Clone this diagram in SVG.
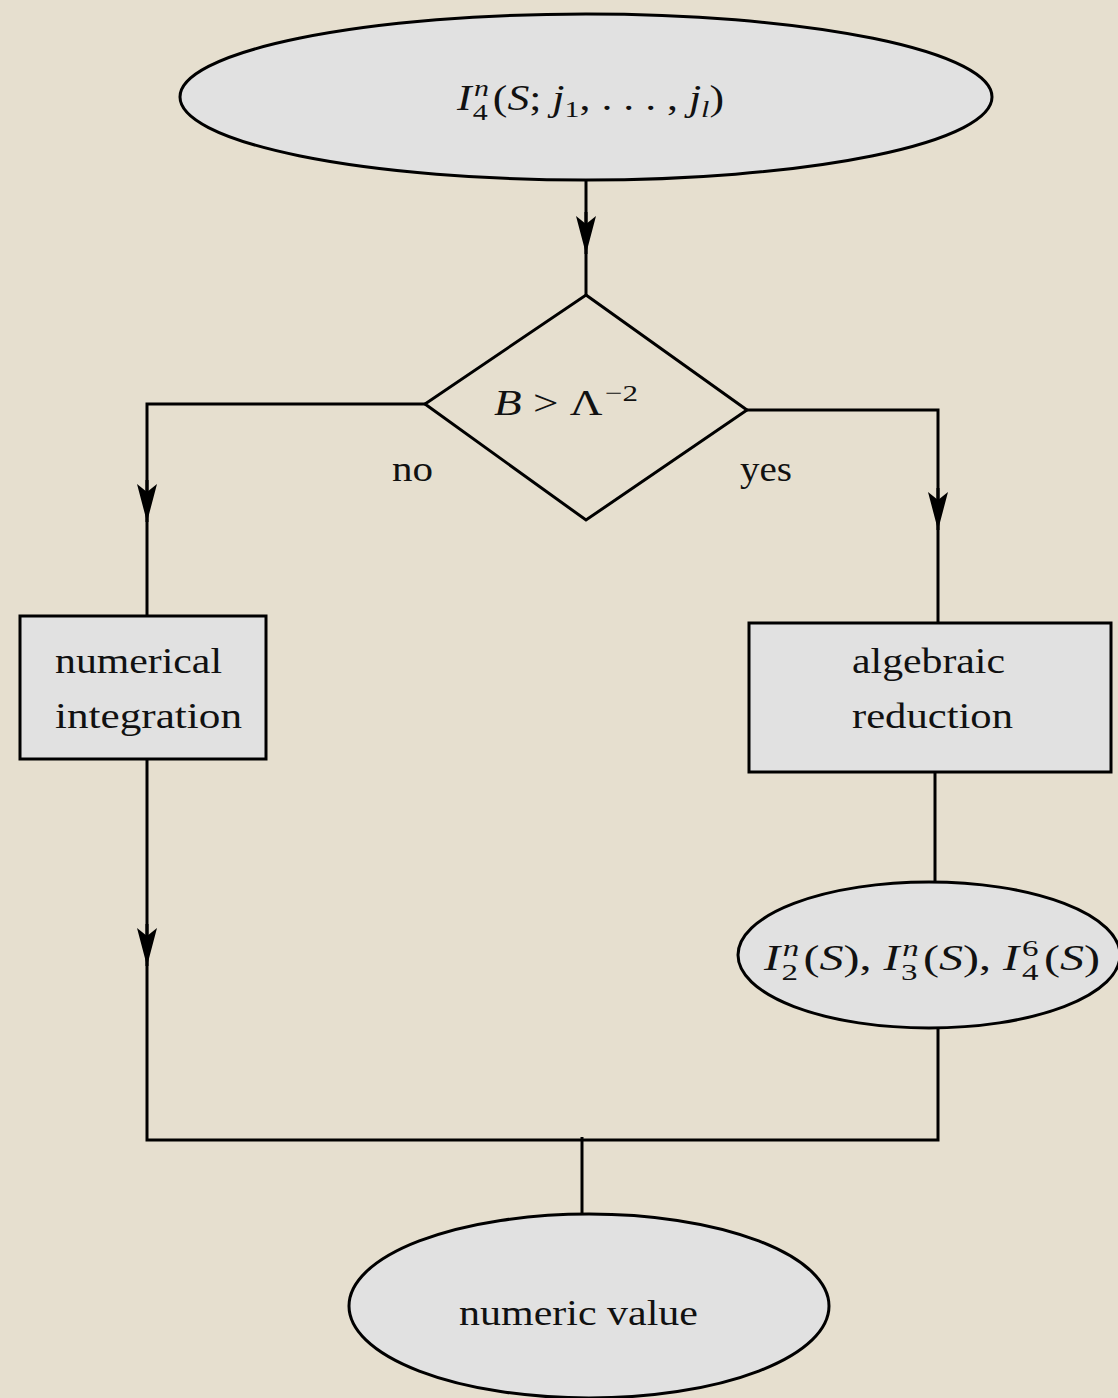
<svg xmlns="http://www.w3.org/2000/svg" width="1118" height="1398" viewBox="0 0 1118 1398">
<defs>
<marker id="arr" viewBox="0 0 40 20" refX="38" refY="10" markerWidth="40" markerHeight="20" markerUnits="userSpaceOnUse" orient="auto">
<path d="M0,0 L8,10 L0,20 L38,10 Z" fill="#000"/>
</marker>
<style>
.node{fill:#e1e1e1;stroke:#000;stroke-width:3}
.ln{fill:none;stroke:#000;stroke-width:3}
.t{font-family:"Liberation Serif","DejaVu Serif",serif;font-size:35px;fill:#111}
.m{font-style:italic}
.s{font-size:24px;font-style:normal}
.si{font-size:24px;font-style:italic}
</style>
</defs>
<rect width="1118" height="1398" fill="#e6dfcf"/>
<g id="connectors">
<line class="ln" x1="586" y1="180" x2="586" y2="295"/>
<line class="ln" x1="586" y1="212" x2="586" y2="254" marker-end="url(#arr)"/>
<polyline class="ln" points="425,404 147,404 147,616"/>
<line class="ln" x1="147" y1="480" x2="147" y2="522" marker-end="url(#arr)"/>
<polyline class="ln" points="747,410 938,410 938,623"/>
<line class="ln" x1="938" y1="488" x2="938" y2="530" marker-end="url(#arr)"/>
<line class="ln" x1="935" y1="772" x2="935" y2="883"/>
<polyline class="ln" points="147,759 147,1140 938,1140 938,1028"/>
<line class="ln" x1="147" y1="924" x2="147" y2="966" marker-end="url(#arr)"/>
<line class="ln" x1="582" y1="1137" x2="582" y2="1215"/>
</g>
<g id="start">
<ellipse class="node" cx="586" cy="97" rx="406" ry="83"/>
<text class="t" x="457" y="110" textLength="267" lengthAdjust="spacingAndGlyphs"><tspan class="m">I</tspan><tspan class="si" dx="2" dy="-14">n</tspan><tspan class="s" dx="-13" dy="24">4</tspan><tspan dx="4" dy="-10">(</tspan><tspan class="m">S</tspan>; <tspan class="m">j</tspan><tspan class="s" dy="7">1</tspan><tspan dy="-7">, . . . , </tspan><tspan class="m">j</tspan><tspan class="si" dy="7">l</tspan><tspan dy="-7">)</tspan></text>
</g>
<g id="decision">
<polygon class="node" style="fill:none" points="586,295 747,410 586,520 425,404"/>
<text class="t" x="494" y="415" textLength="144" lengthAdjust="spacingAndGlyphs"><tspan class="m">B</tspan>  &gt; Λ<tspan class="s" dx="2" dy="-14">−2</tspan></text>
</g>
<text class="t" x="392" y="481" textLength="41" lengthAdjust="spacingAndGlyphs">no</text>
<text class="t" x="740" y="481" textLength="52" lengthAdjust="spacingAndGlyphs">yes</text>
<g id="numerical">
<rect class="node" x="20" y="616" width="246" height="143"/>
<text class="t" x="55" y="673" textLength="167" lengthAdjust="spacingAndGlyphs">numerical</text>
<text class="t" x="55" y="728" textLength="187" lengthAdjust="spacingAndGlyphs">integration</text>
</g>
<g id="algebraic">
<rect class="node" x="749" y="623" width="362" height="149"/>
<text class="t" x="852" y="673" textLength="153" lengthAdjust="spacingAndGlyphs">algebraic</text>
<text class="t" x="852" y="728" textLength="161" lengthAdjust="spacingAndGlyphs">reduction</text>
</g>
<g id="masters">
<ellipse class="node" cx="929" cy="955" rx="191" ry="73"/>
<text class="t" x="764" y="970" textLength="336" lengthAdjust="spacingAndGlyphs"><tspan class="m">I</tspan><tspan class="si" dx="2" dy="-14">n</tspan><tspan class="s" dx="-13" dy="24">2</tspan><tspan dx="4" dy="-10">(</tspan><tspan class="m">S</tspan>), <tspan class="m">I</tspan><tspan class="si" dx="2" dy="-14">n</tspan><tspan class="s" dx="-13" dy="24">3</tspan><tspan dx="4" dy="-10">(</tspan><tspan class="m">S</tspan>), <tspan class="m">I</tspan><tspan class="s" dx="2" dy="-14">6</tspan><tspan class="s" dx="-12" dy="24">4</tspan><tspan dx="4" dy="-10">(</tspan><tspan class="m">S</tspan>)</text>
</g>
<g id="result">
<ellipse class="node" cx="589" cy="1306" rx="240" ry="92"/>
<text class="t" x="459" y="1325" textLength="239" lengthAdjust="spacingAndGlyphs">numeric value</text>
</g>
</svg>
